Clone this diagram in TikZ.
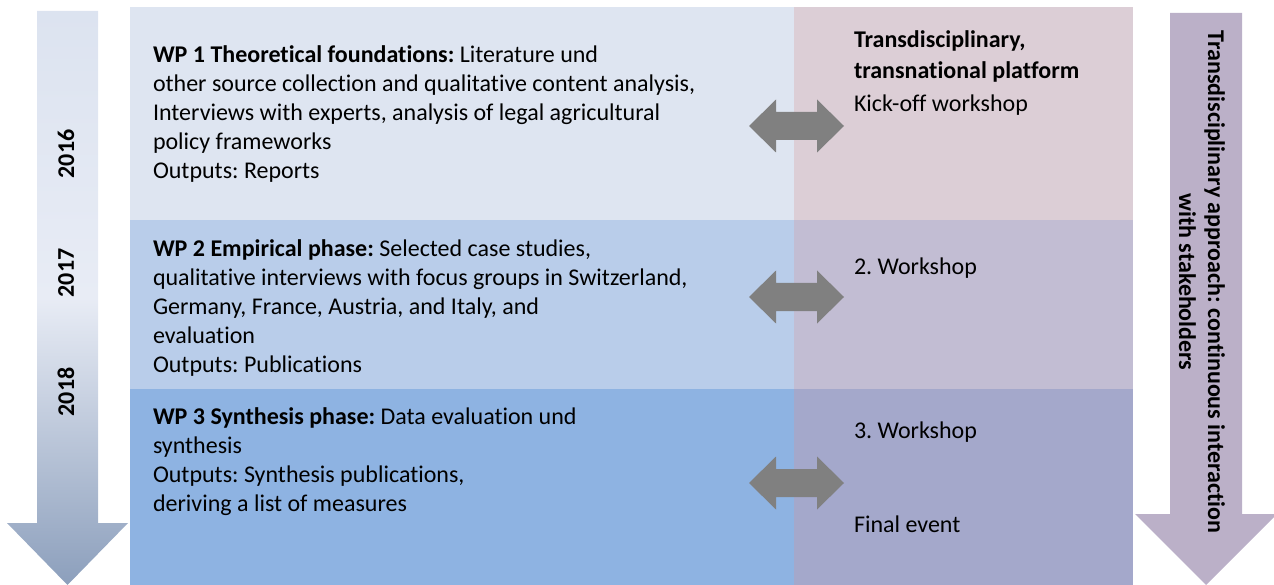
\documentclass[tikz,border=0pt]{standalone}
\usepackage{fontspec}
\setmainfont{Carlito}[Ligatures=NoCommon]
\frenchspacing
\definecolor{rowAL}{HTML}{DEE5F1}
\definecolor{rowAR}{HTML}{DCCED6}
\definecolor{rowBL}{HTML}{B9CDEA}
\definecolor{rowBR}{HTML}{C2BDD3}
\definecolor{rowCL}{HTML}{8EB3E2}
\definecolor{rowCR}{HTML}{A4A8CB}
\definecolor{arrowgray}{HTML}{808080}
\definecolor{lavarrow}{HTML}{BBB0C8}
\definecolor{timetop}{HTML}{DCE3F0}
\definecolor{timemid}{HTML}{E8ECF5}
\definecolor{timebot}{HTML}{8C9FBC}
\begin{document}
\begin{tikzpicture}[x=1pt,y=-1pt,
  box/.style={draw=none,inner sep=0pt,outer sep=0pt,anchor=north west},
  txt/.style={inner sep=0pt,outer sep=0pt,anchor=base west,align=left,
    font=\fontsize{24}{29}\selectfont},
  year/.style={inner sep=0pt,rotate=90,font=\fontsize{24}{29}\selectfont\bfseries},
  dblarrow/.pic={\fill[arrowgray] (-47.5,0) -- (-20.5,-26.5) -- (-20.5,-14) -- (20.5,-14)
     -- (20.5,-26.5) -- (47.5,0) -- (20.5,26.5) -- (20.5,14) -- (-20.5,14)
     -- (-20.5,26.5) -- cycle;}
]
\useasboundingbox (0,0) rectangle (1274,585);
% time arrow
\path[top color=timetop,bottom color=timebot,middle color=timemid]
  (37,11) -- (98,11) -- (98,523) -- (128,523) -- (67.5,585) -- (7,523) -- (37,523) -- cycle;
\node[year] (y16) at (66,154) {2016};
\node[year] (y17) at (66,273) {2017};
\node[year] (y18) at (66,392) {2018};
% rows
\node[box,fill=rowAL,minimum width=664pt,minimum height=213pt] (r1l) at (130,7) {};
\node[box,fill=rowAR,minimum width=339pt,minimum height=213pt] (r1r) at (794,7) {};
\node[box,fill=rowBL,minimum width=664pt,minimum height=169pt] (r2l) at (130,220) {};
\node[box,fill=rowBR,minimum width=339pt,minimum height=169pt] (r2r) at (794,220) {};
\node[box,fill=rowCL,minimum width=664pt,minimum height=196pt] (r3l) at (130,389) {};
\node[box,fill=rowCR,minimum width=339pt,minimum height=196pt] (r3r) at (794,389) {};
% texts (base anchor = baseline of the last line)
\node[txt] (t1) at (153,179) {\textbf{WP 1 Theoretical foundations:} Literature und\\
other source collection and qualitative content analysis,\\
Interviews with experts, analysis of legal agricultural\\
policy frameworks\\
Outputs: Reports};
\node[txt] (t2) at (153,372) {\textbf{WP 2 Empirical phase:} Selected case studies,\\
qualitative interviews with focus groups in Switzerland,\\
Germany, France, Austria, and Italy, and\\
evaluation\\
Outputs: Publications};
\node[txt] (t3) at (153,511) {\textbf{WP 3 Synthesis phase:} Data evaluation und\\
synthesis\\
Outputs: Synthesis publications,\\
deriving a list of measures};
\node[txt] (s1a) at (854,48) {\textbf{Transdisciplinary,}};
\node[txt] (s1b) at (854,79) {\textbf{transnational platform}};
\node[txt] (s1c) at (854,112) {Kick-off workshop};
\node[txt] (s2) at (854,275) {2. Workshop};
\node[txt] (s3a) at (854,438) {3. Workshop};
\node[txt] (s3b) at (854,532) {Final event};
% double arrows between columns
\coordinate (a1) at (796.5,126);
\coordinate (a2) at (796.5,297);
\coordinate (a3) at (796.5,483);
\pic at (a1) {dblarrow};
\pic at (a2) {dblarrow};
\pic at (a3) {dblarrow};
% stakeholder arrow
\fill[lavarrow] (1170,13) -- (1242,13) -- (1242,514) -- (1277,514) -- (1206,585)
  -- (1135,514) -- (1170,514) -- cycle;
\node[inner sep=0pt,rotate=-90,align=center,font=\fontsize{24}{29}\selectfont\bfseries]
  (side) at (1202,282) {Transdisciplinary approach: continuous interaction\\with stakeholders};
\end{tikzpicture}
\end{document}
